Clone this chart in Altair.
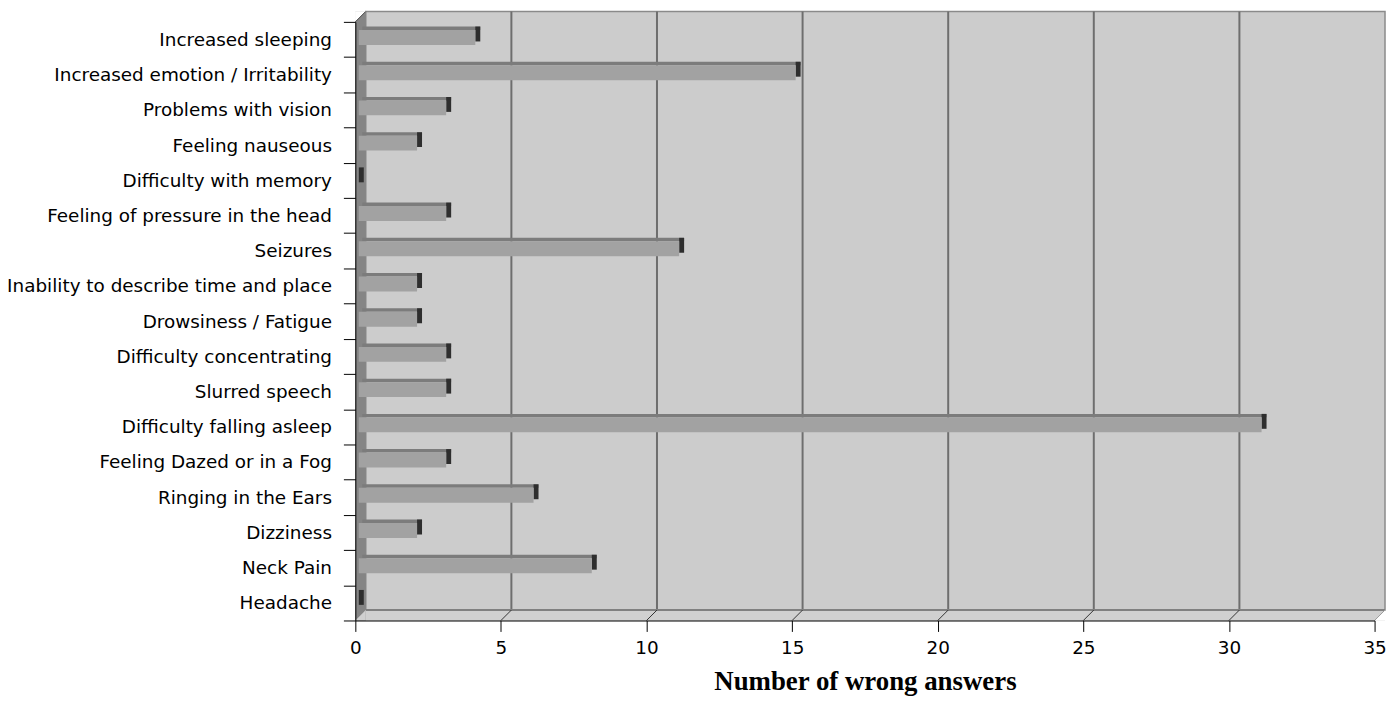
import altair as alt
import pandas as pd

categories = [
    "Increased sleeping",
    "Increased emotion / Irritability",
    "Problems with vision",
    "Feeling nauseous",
    "Difficulty with memory",
    "Feeling of pressure in the head",
    "Seizures",
    "Inability to describe time and place",
    "Drowsiness / Fatigue",
    "Difficulty concentrating",
    "Slurred speech",
    "Difficulty falling asleep",
    "Feeling Dazed or in a Fog",
    "Ringing in the Ears",
    "Dizziness",
    "Neck Pain",
    "Headache",
]
values = [4, 15, 3, 2, 0, 3, 11, 2, 2, 3, 3, 31, 3, 6, 2, 8, 0]
tick_values = [0, 5, 10, 15, 20, 25, 30, 35]
grid_values = [5, 10, 15, 20, 25, 30]

W, H = 1025, 602
D = 10.5  # 3D depth in px
U = (tick_values[-1] - tick_values[0]) / W  # data units per pixel
WALL = "#CCCCCC"
FLOOR = "#D0D0D0"
SIDE = "#858585"
FONT = "DejaVu Sans"
TITLE = "Number of wrong answers"

bars = pd.DataFrame({"symptom": categories, "count": values})
one = pd.DataFrame({"lo": [tick_values[0]], "hi": [tick_values[-1]]})
grid = pd.DataFrame({"t": grid_values})
floor_ticks = pd.DataFrame({"t": tick_values[1:-1]})
edge_tick = pd.DataFrame({"t": [tick_values[-1]]})

xs = alt.Scale(domain=[tick_values[0], tick_values[-1]], nice=False, zero=False)
ys = alt.Scale(domain=categories, paddingInner=0, paddingOuter=0)

X_AXIS = alt.Axis(
    values=tick_values, tickSize=11, tickColor="black", domainColor="black",
    labelFont=FONT, labelFontSize=18.5, labelColor="black", labelPadding=7,
    labelFlush=False, labelOverlap=False,
    titleFont="Liberation Serif", titleFontSize=27, titleFontWeight="bold",
    titleColor="black", titlePadding=12, grid=False, zindex=2,
)


def xe(field):
    return alt.X(f"{field}:Q", scale=xs, axis=X_AXIS, title=TITLE)


def yv(expr):
    return alt.value(alt.expr(expr))


# back wall
wall = alt.Chart(one).transform_calculate(
    x0=f"datum.lo + {D * U}", x1=f"datum.hi + {D * U}"
).mark_rect(fill=WALL, stroke="#8A8A8A", strokeWidth=1.5).encode(
    x=xe("x0"), x2="x1:Q", y=yv(f"-{D}"), y2=yv(f"height - {D}"),
)

gridlines = alt.Chart(grid).mark_rule(
    color="#6E6E6E", strokeWidth=2, xOffset=D, x2Offset=D, yOffset=-D, y2Offset=-D,
).encode(x=xe("t"), y=alt.value(0), y2=alt.value("height"))

floor = alt.Chart(one).transform_calculate(
    x1=f"datum.hi + {D * U}"
).mark_rect(fill=FLOOR).encode(
    x=xe("lo"), x2="x1:Q", y=yv(f"height - {D}"), y2=alt.value("height"),
)

floor_back = alt.Chart(one).mark_rule(
    color="#808080", strokeWidth=2, xOffset=D, x2Offset=D, yOffset=-D, y2Offset=-D,
).encode(x=xe("lo"), x2="hi:Q", y=alt.value("height"), y2=alt.value("height"))

floor_corner = alt.Chart(one).mark_point(
    shape="M1,-1L1,1L-1,1Z", size=D * D, filled=True, fill="white",
    strokeWidth=0, opacity=1, xOffset=D / 2, yOffset=-D / 2,
).encode(x=xe("hi"), y=alt.value("height"))

side = alt.Chart(one).transform_calculate(
    x1=f"datum.lo + {D * U}"
).mark_rect(fill=SIDE).encode(
    x=xe("lo"), x2="x1:Q", y=yv(f"-{D}"), y2=alt.value("height"),
)

side_top = alt.Chart(one).mark_point(
    shape="M-1,-1L1,-1L-1,1Z", size=(D + 0.5) ** 2, filled=True, fill="white",
    strokeWidth=0, opacity=1, xOffset=D / 2, yOffset=-D / 2,
).encode(x=xe("lo"), y=alt.value(0))

side_bottom = alt.Chart(one).mark_point(
    shape="M1,-1L1,1L-1,1Z", size=D * D, filled=True, fill=FLOOR,
    strokeWidth=0, opacity=1, xOffset=D / 2, yOffset=-D / 2,
).encode(x=xe("lo"), y=alt.value("height"))

top_diag = alt.Chart(one).mark_rule(
    color="#444444", strokeWidth=1, xOffset=0, x2Offset=D, yOffset=0, y2Offset=-D,
).encode(x=xe("lo"), x2="lo:Q", y=alt.value(0), y2=alt.value(0))

floor_diag = alt.Chart(floor_ticks).mark_rule(
    color="#333333", strokeWidth=1, xOffset=0, x2Offset=D, yOffset=0, y2Offset=-D,
).encode(x=xe("t"), x2="t:Q", y=alt.value("height"), y2=alt.value("height"))

edge_diag = alt.Chart(edge_tick).mark_rule(
    color="#9A9A9A", strokeWidth=1, xOffset=0, x2Offset=D, yOffset=0, y2Offset=-D,
).encode(x=xe("t"), x2="t:Q", y=alt.value("height"), y2=alt.value("height"))

ybar = alt.Y(
    "symptom:N", scale=ys, sort=categories, title=None,
    axis=alt.Axis(
        tickBand="extent", tickSize=12, tickColor="black", domainColor="black",
        labelFont=FONT, labelFontSize=18.5, labelColor="black", labelPadding=12,
        labelLimit=400, grid=False, zindex=2,
    ),
)

FH = 15.0  # front face thickness
TH = 3.5   # top face thickness
SHIFT = 3.5
SIDEW = 5.0

bar_top = alt.Chart(bars).transform_calculate(
    t0=f"{(SHIFT + TH) * U}", t1=f"datum.count + {(SHIFT + SIDEW) * U}"
).mark_bar(color="#7C7C7C", size=TH, yOffset=-2 - FH / 2 - TH / 2).encode(
    x=xe("t0"), x2="t1:Q", y=ybar
)

bar_side = alt.Chart(bars).transform_calculate(
    s0=f"datum.count + {SHIFT * U}", s1=f"datum.count + {(SHIFT + SIDEW) * U}"
).mark_bar(color="#2E2E2E", size=FH, yOffset=-2 - TH).encode(
    x=xe("s0"), x2="s1:Q", y=ybar
)

bar_front = alt.Chart(bars).transform_calculate(
    f0=f"{SHIFT * U}", f1=f"datum.count + {SHIFT * U}"
).mark_bar(color="#A2A2A2", size=FH, yOffset=-2).encode(
    x=xe("f0"), x2="f1:Q", y=ybar,
    tooltip=["symptom:N", "count:Q"],
)

chart = alt.layer(
    wall, gridlines, floor, floor_back, floor_corner, side, side_top, side_bottom,
    top_diag, floor_diag, edge_diag, bar_top, bar_side, bar_front,
).properties(
    width=W, height=H,
    autosize=alt.AutoSizeParams(type="none"),
    padding={"left": 349.3, "top": 12, "right": 12.5, "bottom": 74},
).configure_view(stroke=None).configure(background="white")

chart.save("out.html", embed_options={"renderer": "svg", "actions": False})
